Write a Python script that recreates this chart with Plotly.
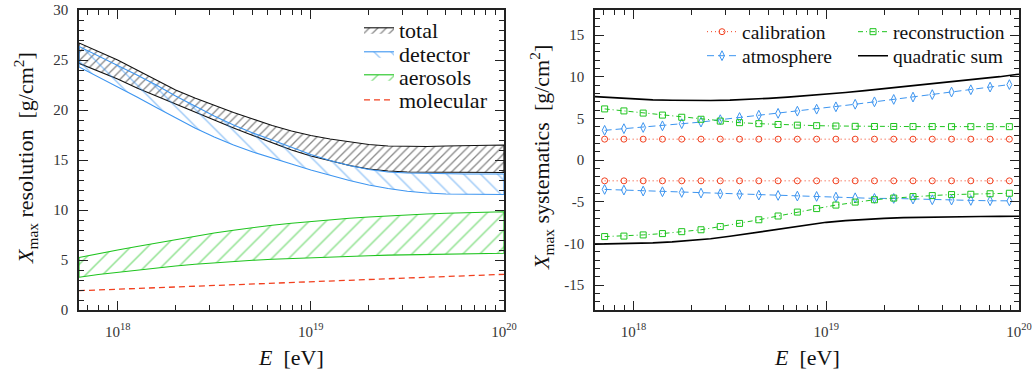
import plotly.graph_objects as go

# ---------------- data ----------------
logE = [17.8, 17.9, 18.0, 18.1, 18.2, 18.3, 18.4, 18.5, 18.6, 18.7, 18.8, 18.9,
        19.0, 19.1, 19.2, 19.3, 19.4, 19.5, 19.6, 19.7, 19.8, 19.9, 20.0]

total_hi = [26.7, 25.85, 25.0, 24.0, 23.0, 22.0, 21.2, 20.45, 19.75, 19.1, 18.45, 17.9,
            17.45, 17.1, 16.8, 16.55, 16.4, 16.35, 16.35, 16.4, 16.45, 16.5, 16.5]
total_lo = [24.67, 23.9, 23.1, 22.2, 21.4, 20.6, 19.8, 19.0, 18.2, 17.45, 16.7, 16.0,
            15.4, 14.9, 14.45, 14.1, 13.9, 13.8, 13.75, 13.75, 13.75, 13.75, 13.75]
det_hi = [26.35, 25.4, 24.5, 23.5, 22.5, 21.4, 20.4, 19.4, 18.5, 17.7, 17.0, 16.25,
          15.55, 14.95, 14.45, 14.05, 13.8, 13.7, 13.65, 13.6, 13.6, 13.6, 13.6]
det_lo = [24.3, 23.3, 22.3, 21.3, 20.25, 19.2, 18.2, 17.3, 16.5, 15.8, 15.2, 14.6,
          14.0, 13.45, 12.95, 12.5, 12.15, 11.88, 11.7, 11.6, 11.56, 11.55, 11.55]
aer_hi = [5.25, 5.65, 6.0, 6.35, 6.7, 7.05, 7.4, 7.7, 7.98, 8.25, 8.48, 8.68,
          8.86, 9.02, 9.17, 9.3, 9.42, 9.52, 9.6, 9.67, 9.73, 9.78, 9.82]
aer_lo = [3.27, 3.55, 3.8, 4.0, 4.2, 4.4, 4.58, 4.72, 4.85, 4.97, 5.07, 5.15,
          5.23, 5.3, 5.37, 5.43, 5.49, 5.53, 5.57, 5.6, 5.63, 5.65, 5.67]
mol_logE = [17.8, 18.0, 18.2, 18.4, 18.6, 18.8, 19.0, 19.2, 19.4, 19.6, 19.8, 20.0]
molecular = [1.93, 2.08, 2.23, 2.38, 2.53, 2.68, 2.83, 2.98, 3.12, 3.27, 3.42, 3.57]

sys_logE = [17.85, 17.95, 18.05, 18.15, 18.25, 18.35, 18.45, 18.55, 18.65, 18.75, 18.85,
            18.95, 19.05, 19.15, 19.25, 19.35, 19.45, 19.55, 19.65, 19.75, 19.85, 19.95]
calib_hi = [2.5] * 22
calib_lo = [-2.5] * 22
atm_hi = [3.56, 3.76, 3.9, 4.1, 4.36, 4.55, 4.84, 5.1, 5.38, 5.6, 5.86,
          6.1, 6.38, 6.69, 6.98, 7.27, 7.55, 7.85, 8.15, 8.43, 8.75, 9.05]
atm_lo = [-3.53, -3.61, -3.73, -3.81, -3.89, -3.97, -4.05, -4.13, -4.21, -4.25, -4.33,
          -4.37, -4.45, -4.53, -4.61, -4.61, -4.69, -4.77, -4.81, -4.85, -4.89, -4.9]
reco_hi = [6.13, 5.89, 5.63, 5.39, 5.13, 4.89, 4.67, 4.48, 4.36, 4.26, 4.18,
           4.12, 4.08, 4.04, 4.02, 4.02, 4.01, 4.01, 4.0, 4.0, 4.0, 4.0]
reco_lo = [-9.19, -9.13, -8.99, -8.83, -8.6, -8.37, -7.99, -7.61, -7.17, -6.72, -6.25,
           -5.83, -5.41, -5.05, -4.77, -4.57, -4.39, -4.27, -4.15, -4.11, -4.05, -3.99]
quad_logE = logE
quad_hi = [7.6, 7.45, 7.32, 7.22, 7.17, 7.14, 7.14, 7.18, 7.27, 7.4, 7.55, 7.72,
           7.9, 8.1, 8.32, 8.55, 8.78, 9.0, 9.25, 9.5, 9.75, 10.0, 10.3]
quad_lo = [-10.1, -10.08, -10.02, -9.95, -9.82, -9.67, -9.45, -9.15, -8.8, -8.45, -8.1, -7.75,
           -7.48, -7.28, -7.12, -7.0, -6.92, -6.87, -6.83, -6.8, -6.78, -6.76, -6.75]

left_yticks = [0, 5, 10, 15, 20, 25, 30]
right_yticks = [-15, -10, -5, 0, 5, 10, 15]
right_yticktext = ["-15", "-10", "-5", "0", "5", "10", "15"]
x_tickvals = [1e18, 1e19, 1e20]
x_ticktext = ["10<sup>18</sup>", "10<sup>19</sup>", "10<sup>20</sup>"]

# ---------------- helpers ----------------
FONT = "Liberation Serif, DejaVu Serif, serif"
E = [10.0 ** v for v in logE]
E_mol = [10.0 ** v for v in mol_logE]
E_sys = [10.0 ** v for v in sys_logE]
E_quad = [10.0 ** v for v in quad_logE]


def band(hi, lo):
    xs = E + E[::-1] + [E[0]]
    ys = hi + lo[::-1] + [hi[0]]
    return xs, ys


def pair(x, hi, lo):
    return x + [None] + x, hi + [None] + lo


fig = go.Figure()

RED = "#f2401f"
BLUE = "#3d95f0"
GREEN = "#1ec41e"

# left panel bands
for name, hi, lo, col, shape, size, sol, leg in [
    ("total", total_hi, total_lo, "#111111", "/", 6, 0.22, "legend"),
    ("detector", det_hi, det_lo, BLUE, "\\", 12, 0.12, "legend2"),
    ("aerosols", aer_hi, aer_lo, GREEN, "/", 12, 0.12, "legend3"),
]:
    xs, ys = band(hi, lo)
    fig.add_trace(go.Scatter(
        x=xs, y=ys, mode="lines", fill="toself", name=name,
        line=dict(color=col, width=1.1),
        fillcolor="rgba(0,0,0,0)",
        fillpattern=dict(shape=shape, fgcolor=col, bgcolor="rgba(0,0,0,0)",
                         size=size, solidity=sol),
        xaxis="x", yaxis="y", legend=leg,
    ))

fig.add_trace(go.Scatter(
    x=E_mol, y=molecular, mode="lines", name="molecular",
    line=dict(color=RED, width=1.3, dash="6px,4px"),
    xaxis="x", yaxis="y", legend="legend4",
))

# right panel
xs, ys = pair(E_sys, calib_hi, calib_lo)
fig.add_trace(go.Scatter(
    x=xs, y=ys, mode="lines+markers", name="calibration",
    line=dict(color=RED, width=1, dash="1px,3px"),
    marker=dict(symbol="circle-open", size=6, color=RED, line=dict(width=1)),
    xaxis="x2", yaxis="y2", legend="legend5",
))
xs, ys = pair(E_sys, atm_hi, atm_lo)
fig.add_trace(go.Scatter(
    x=xs, y=ys, mode="lines+markers", name="atmosphere",
    line=dict(color=BLUE, width=1, dash="7px,4px"),
    marker=dict(symbol="diamond-tall-open", size=7, color=BLUE, line=dict(width=1)),
    xaxis="x2", yaxis="y2", legend="legend6",
))
xs, ys = pair(E_sys, reco_hi, reco_lo)
fig.add_trace(go.Scatter(
    x=xs, y=ys, mode="lines+markers", name="reconstruction",
    line=dict(color=GREEN, width=1, dash="5px,3px,1px,3px"),
    marker=dict(symbol="square-open", size=6, color=GREEN, line=dict(width=1)),
    xaxis="x2", yaxis="y2", legend="legend7",
))
xs, ys = pair(E_quad, quad_hi, quad_lo)
fig.add_trace(go.Scatter(
    x=xs, y=ys, mode="lines", name="quadratic sum",
    line=dict(color="black", width=1.6),
    xaxis="x2", yaxis="y2", legend="legend8",
))

W, H = 1033, 373
ML, MR, MT, MB = 0, 0, 10, 63
PH = H - MT - MB

minor_x = [m * 10.0 ** d for d in (17, 18, 19) for m in range(2, 10)]

axis_common = dict(
    showgrid=False, zeroline=False, showline=True, linecolor="#222222", linewidth=1.5,
    mirror="ticks", ticks="inside", tickcolor="#222222", tickwidth=1.2,
    tickfont=dict(family=FONT, size=15, color="#333333"),
)
xaxis_common = dict(
    axis_common, type="log", range=[17.8, 20.0], tickmode="array",
    tickvals=x_tickvals, ticktext=x_ticktext, ticklen=9, ticklabelstandoff=7,
    minor=dict(tickmode="array", tickvals=minor_x, ticks="inside", ticklen=5,
               tickcolor="#222222", tickwidth=1, showgrid=False),
)


def leg(text_x, row_y, size):
    # one legend per entry, placed by the pixel position of its text
    return dict(x=(text_x - 40) / W, y=(H - MB - row_y) / PH,
                xanchor="left", yanchor="middle", bgcolor="rgba(0,0,0,0)",
                font=dict(family=FONT, size=size, color="#111111"),
                tracegroupgap=0, itemwidth=30)


fig.update_layout(
    width=W, height=H,
    margin=dict(l=ML, r=MR, t=MT, b=MB, autoexpand=False),
    paper_bgcolor="white", plot_bgcolor="white",
    font=dict(family=FONT, size=19, color="#111111"),
    xaxis=dict(xaxis_common, domain=[79 / W, 504 / W], anchor="y"),
    yaxis=dict(axis_common, domain=[0, 1], anchor="x", range=[0, 30],
               tickmode="array", tickvals=left_yticks, ticklen=9, ticklabelstandoff=6,
               minor=dict(dtick=1, ticks="inside", ticklen=5, tickcolor="#222222",
                          tickwidth=1, showgrid=False)),
    xaxis2=dict(xaxis_common, domain=[595 / W, 1019 / W], anchor="y2"),
    yaxis2=dict(axis_common, domain=[0, 1], anchor="x2", range=[-18, 18],
                tickmode="array", tickvals=right_yticks, ticktext=right_yticktext,
                ticklen=9, ticklabelstandoff=6,
                minor=dict(dtick=1, tick0=0, ticks="inside", ticklen=5,
                           tickcolor="#222222", tickwidth=1, showgrid=False)),
    legend=leg(399, 30, 22),
    legend2=leg(399, 54, 22),
    legend3=leg(399, 77, 22),
    legend4=leg(399, 100, 22),
    legend5=leg(742, 32, 19.5),
    legend6=leg(742, 56, 19.5),
    legend7=leg(893, 32, 19.5),
    legend8=leg(893, 56, 19.5),
    showlegend=True,
)

# axis titles as annotations
ann = dict(xref="paper", yref="paper", showarrow=False, xanchor="center",
           yanchor="middle", font=dict(family=FONT, size=22, color="#111111"))
fig.add_annotation(ann, x=25 / W, y=(H - MB - 158) / PH, textangle=-90,
                   text="<i>X</i><sub>max</sub> resolution  [g/cm<sup>2</sup>]")
fig.add_annotation(ann, x=541 / W, y=(H - MB - 158) / PH, textangle=-90,
                   text="<i>X</i><sub>max</sub> systematics  [g/cm<sup>2</sup>]")
fig.add_annotation(ann, x=291 / W, y=(H - MB - 357) / PH,
                   text="<i>E</i>  [eV]")
fig.add_annotation(ann, x=807 / W, y=(H - MB - 357) / PH,
                   text="<i>E</i>  [eV]")

fig.write_html("out.html")
